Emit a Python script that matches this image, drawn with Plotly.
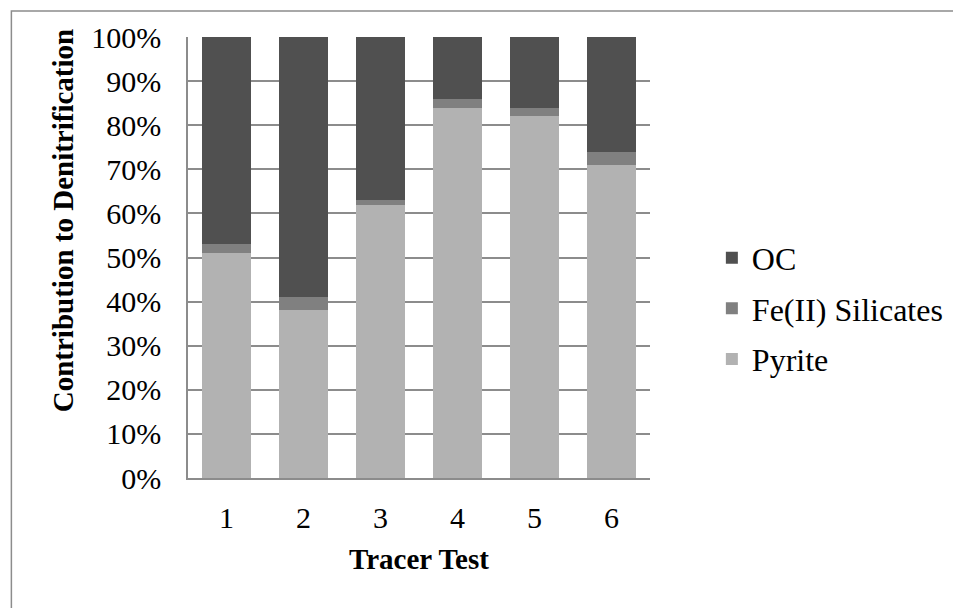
import plotly.graph_objects as go

categories = ["1", "2", "3", "4", "5", "6"]
pyrite = [0.51, 0.38, 0.62, 0.84, 0.82, 0.71]
fe_silicates = [0.02, 0.03, 0.01, 0.02, 0.02, 0.03]
oc = [0.47, 0.59, 0.37, 0.14, 0.16, 0.26]
y_ticks = [0, 0.1, 0.2, 0.3, 0.4, 0.5, 0.6, 0.7, 0.8, 0.9, 1.0]

FONT = "Liberation Serif"
OFF = 8  # page body margin offset
W, H = 961 - OFF, 608 - OFF
L, T = 188 - OFF, 35 - OFF
R = W - (651 - OFF)
B = H - (478.5 - OFF)
PW, PH = W - L - R, H - T - B
BOT = H - B  # plot bottom in figure px


def px_x(sx):
    return (sx - OFF - L) / PW


def px_y(sy):
    return (BOT - (sy - OFF)) / PH


fig = go.Figure()
fig.add_trace(go.Bar(x=categories, y=pyrite, name="Pyrite", marker_color="#b2b2b2",
                     marker_line_width=0, legendgroup="p", legendrank=3))
fig.add_trace(go.Bar(x=categories, y=fe_silicates, name="Fe(II) Silicates", marker_color="#808080",
                     marker_line_width=0, legendgroup="f", legendrank=2))
fig.add_trace(go.Bar(x=categories, y=oc, name="OC", marker_color="#505050",
                     marker_line_width=0, legendgroup="o", legendrank=1))

fig.update_layout(
    width=W, height=H,
    margin=dict(l=L, r=R, t=T, b=B, pad=0),
    barmode="stack", bargap=0.37,
    paper_bgcolor="white", plot_bgcolor="white",
    font=dict(family=FONT, size=30, color="black"),
    legend=dict(x=px_x(713), y=px_y(308), xanchor="left", yanchor="middle",
                traceorder="grouped", tracegroupgap=6,
                font=dict(family=FONT, size=32, color="black"), bgcolor="rgba(0,0,0,0)"),
    xaxis=dict(showline=True, linecolor="#8c8c8c", linewidth=1.5, showgrid=False,
               ticks="", ticklabelstandoff=12, tickfont=dict(family=FONT, size=30)),
    yaxis=dict(range=[0, 1], tickvals=y_ticks, tickformat=".0%", showline=True,
               linecolor="#8c8c8c", linewidth=1.5, showgrid=True, gridcolor="#8c8c8c",
               gridwidth=1.5, ticks="", ticklabelstandoff=19, zeroline=False,
               tickfont=dict(family=FONT, size=30)),
    annotations=[
        dict(text="<b>Contribution to Denitrification</b>", xref="paper", yref="paper",
             x=px_x(63), y=px_y(220), textangle=-90, showarrow=False,
             xanchor="center", yanchor="middle", font=dict(family=FONT, size=29)),
        dict(text="<b>Tracer Test</b>", xref="paper", yref="paper",
             x=0.5, y=px_y(560), showarrow=False,
             xanchor="center", yanchor="middle", font=dict(family=FONT, size=29)),
    ],
    shapes=[
        dict(type="rect", xref="paper", yref="paper",
             x0=px_x(11), x1=px_x(961 + 40),
             y0=px_y(608 + 40), y1=(BOT - 0.75) / PH,
             line=dict(color="#8c8c8c", width=1.5), fillcolor="rgba(0,0,0,0)", layer="below"),
    ],
)

fig.write_html("out.html")
